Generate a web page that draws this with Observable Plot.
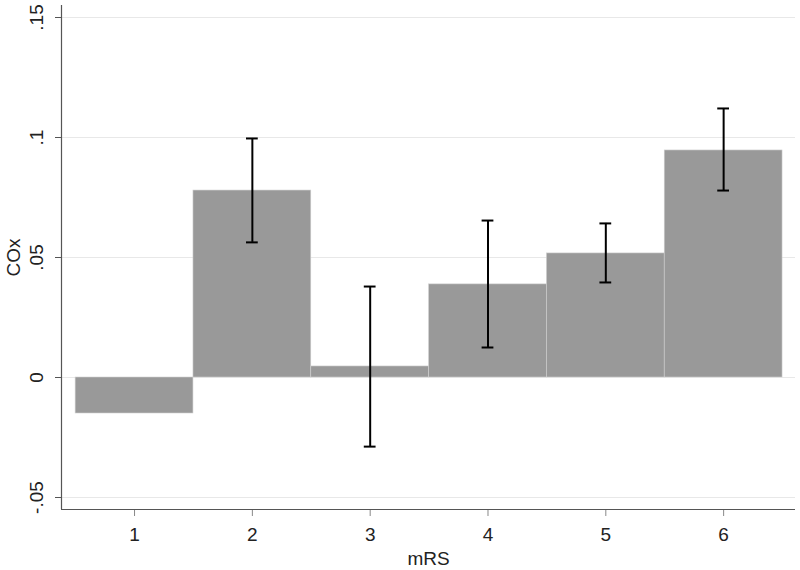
<!DOCTYPE html>
<html>
<head>
<meta charset="utf-8">
<script src="https://cdn.jsdelivr.net/npm/d3@7"></script>
<script src="https://cdn.jsdelivr.net/npm/@observablehq/plot@0.6"></script>
<style>
  html, body { margin: 0; padding: 0; background: #fff; }
  #chart svg { display: block; }
</style>
</head>
<body>
<div id="chart"></div>
<script>
const mrs = [1, 2, 3, 4, 5, 6];
const cox = [-0.015, 0.0779, 0.0046, 0.0388, 0.0517, 0.0946];
const ciLow = [null, 0.0563, -0.0288, 0.0125, 0.0396, 0.0779];
const ciHigh = [null, 0.0996, 0.0379, 0.0654, 0.0642, 0.1121];
const yTicks = [-0.05, 0, 0.05, 0.1, 0.15];
const yTickLabels = ["-.05", "0", ".05", ".1", ".15"];

const bars = mrs.map((m, i) => ({mrs: m, cox: cox[i]}));
const errs = mrs.map((m, i) => ({mrs: m, lo: ciLow[i], hi: ciHigh[i]})).filter(d => d.lo != null);
const capHalf = 0.05;

const font = "Liberation Sans, Arial, Helvetica, sans-serif";

const chart = Plot.plot({
  width: 800,
  height: 570,
  marginLeft: 61,
  marginRight: 5,
  marginTop: 5,
  marginBottom: 61,
  style: {fontFamily: font, fontSize: "19px", color: "#222"},
  x: {domain: [0.38, 6.61]},
  y: {domain: [-0.055, 0.155]},
  marks: [
    Plot.ruleY(yTicks, {stroke: "#e8e8e8", strokeWidth: 1}),
    Plot.rect(bars, {x1: d => d.mrs - 0.5, x2: d => d.mrs + 0.5, y1: 0, y2: "cox", fill: "#999999", stroke: "#d0d0d0", strokeWidth: 0.6}),
    Plot.ruleX(errs, {x: "mrs", y1: "lo", y2: "hi", stroke: "#000", strokeWidth: 2}),
    Plot.ruleY(errs, {y: "lo", x1: d => d.mrs - capHalf, x2: d => d.mrs + capHalf, stroke: "#000", strokeWidth: 2}),
    Plot.ruleY(errs, {y: "hi", x1: d => d.mrs - capHalf, x2: d => d.mrs + capHalf, stroke: "#000", strokeWidth: 2}),
    Plot.axisY({ticks: yTicks, tickFormat: (d) => yTickLabels[yTicks.indexOf(d)], tickSize: 6, tickRotate: -90, tickPadding: 13, label: null, stroke: "#555", fill: "#222", fontSize: 19}),
    Plot.axisX({ticks: mrs, tickFormat: d => String(d), tickSize: 7, tickPadding: 11, label: null, stroke: "#888", fill: "#222", fontSize: 19}),
    Plot.ruleX([0.38], {stroke: "#555", strokeWidth: 1.2}),
    Plot.ruleY([-0.055], {stroke: "#555", strokeWidth: 1.2}),
    Plot.text(["mRS"], {frameAnchor: "bottom", dy: 55, fill: "#222", fontSize: 19}),
    Plot.text(["COx"], {frameAnchor: "left", dx: -48, rotate: -90, textAnchor: "middle", fill: "#222", fontSize: 19})
  ]
});
document.getElementById("chart").appendChild(chart);
</script>
</body>
</html>
